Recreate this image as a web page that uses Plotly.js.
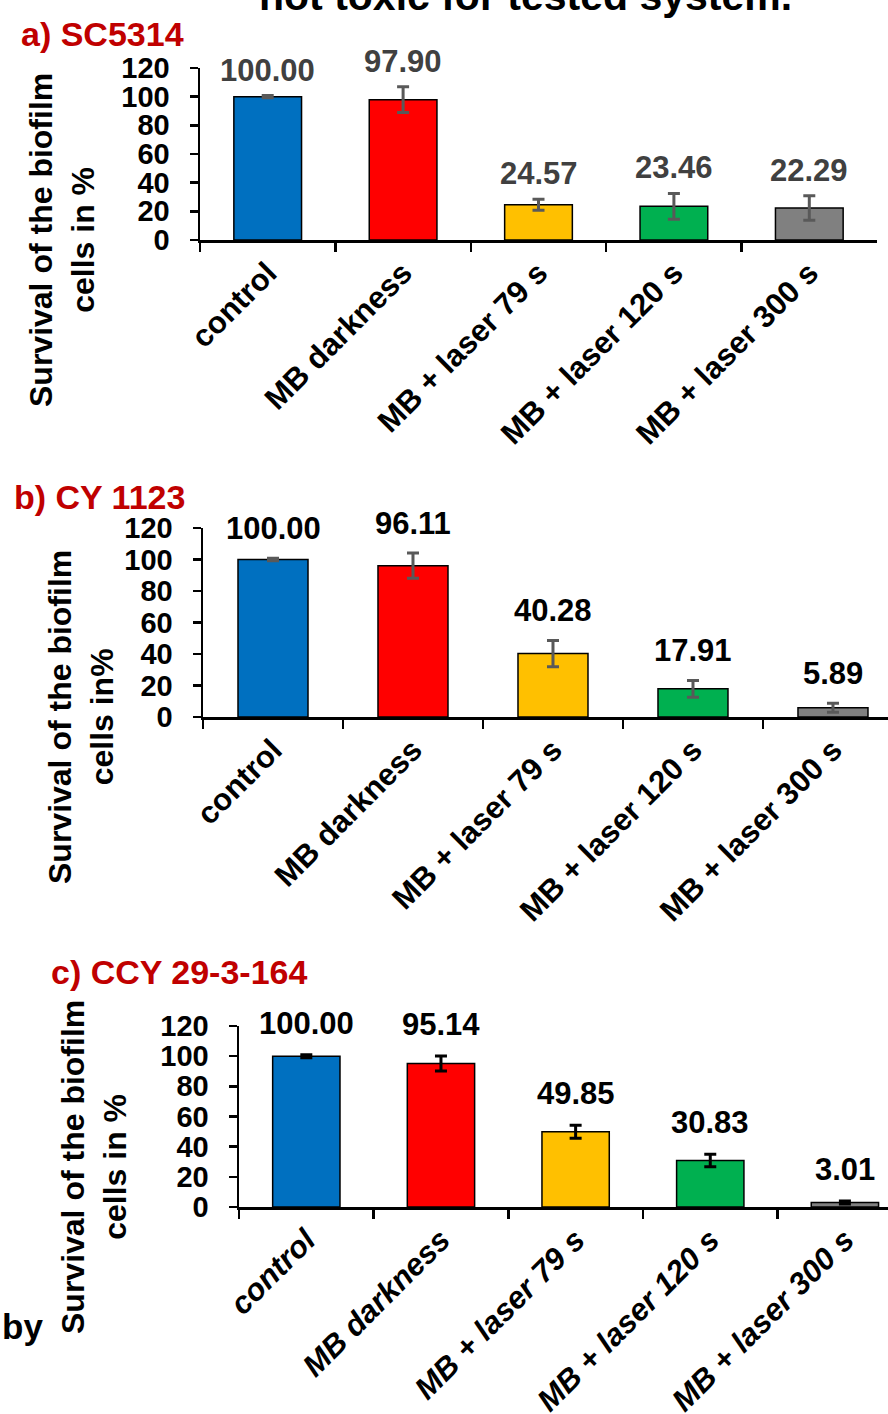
<!DOCTYPE html>
<html>
<head>
<meta charset="utf-8">
<script src="https://cdn.plot.ly/plotly-3.0.1.min.js"></script>
<style>
  html, body { margin: 0; padding: 0; background: #ffffff; }
  #chart { width: 888px; height: 1414px; }
</style>
</head>
<body>
<div id="chart"></div>
<script>
// ---------- data ----------
const categories = ['control', 'MB darkness', 'MB + laser 79 s', 'MB + laser 120 s', 'MB + laser 300 s'];

const valuesA = [100.00, 97.90, 24.57, 23.46, 22.29];
const errorsA = [0.8, 9.0, 3.9, 9.0, 8.5];

const valuesB = [100.00, 96.11, 40.28, 17.91, 5.89];
const errorsB = [0.8, 8.0, 8.3, 5.3, 2.9];

const valuesC = [100.00, 95.14, 49.85, 30.83, 3.01];
const errorsC = [1.0, 5.0, 4.3, 4.2, 1.0];

const barColors = ['#0070C0', '#FF0000', '#FFC000', '#00B050', '#808080'];
const yTicks = [0, 20, 40, 60, 80, 100, 120];

const panelTitles = ['a) SC5314', 'b) CY 1123', 'c) CCY 29-3-164'];
const yTitles = ['Survival of the biofilm<br>cells in %', 'Survival of the biofilm<br>cells in%', 'Survival of the biofilm<br>cells in %'];
const topText = 'not toxic for tested system.';
const sideText = 'by';

// ---------- layout helpers ----------
const W = 888, H = 1414;
const FONT = 'Liberation Sans, Arial, sans-serif';
const px = x => x / W;
const py = y => 1 - y / H;

const panels = [
  { values: valuesA, errors: errorsA, x0: 200, x1: 877, xmax: 4.5, yTop: 68, yBot: 240,
    errColor: '#595959', labelColor: '#404040', labelShift: 6, italic: false,
    titlePos: [19, 34], yTitlePos: [62, 240] },
  { values: valuesB, errors: errorsB, x0: 203, x1: 888, xmax: 4.393, yTop: 528, yBot: 717,
    errColor: '#595959', labelColor: '#000000', labelShift: 10, italic: false,
    titlePos: [12, 497], yTitlePos: [81, 717] },
  { values: valuesC, errors: errorsC, x0: 239, x1: 888, xmax: 4.32, yTop: 1026, yBot: 1207,
    errColor: '#000000', labelColor: '#000000', labelShift: 12, italic: true,
    titlePos: [49, 972], yTitlePos: [94, 1167] }
];

const traces = [];
const layout = {
  width: W, height: H,
  margin: { l: 0, r: 0, t: 0, b: 0, pad: 0 },
  paper_bgcolor: '#ffffff', plot_bgcolor: 'rgba(0,0,0,0)',
  showlegend: false,
  bargap: 0.5,
  annotations: []
};

panels.forEach((p, i) => {
  const n = i === 0 ? '' : String(i + 1);
  traces.push({
    type: 'bar',
    x: categories,
    y: p.values,
    xaxis: 'x' + n, yaxis: 'y' + n,
    marker: { color: barColors, line: { color: '#000000', width: 1.5 } },
    error_y: { type: 'data', array: p.errors, visible: true, color: p.errColor, thickness: 3, width: 6 },
    hoverinfo: 'skip'
  });

  layout['xaxis' + n] = {
    domain: [px(p.x0), px(p.x1)],
    anchor: 'y' + n,
    type: 'category',
    range: [-0.5, p.xmax],
    tickson: 'boundaries',
    ticks: 'outside', ticklen: 9, tickwidth: 2.5, tickcolor: '#000000',
    showline: true, linecolor: '#000000', linewidth: 2.5,
    showgrid: false, zeroline: false,
    tickangle: -45,
    tickfont: { family: FONT, size: 31, color: '#000000', weight: 'bold', style: p.italic ? 'italic' : 'normal' },
    fixedrange: true
  };
  layout['yaxis' + n] = {
    domain: [py(p.yBot), py(p.yTop)],
    anchor: 'x' + n,
    range: [0, 120],
    tickvals: yTicks,
    ticks: 'outside', ticklen: 8, tickwidth: 2.5, tickcolor: '#000000',
    ticklabelstandoff: 14,
    showline: true, linecolor: '#000000', linewidth: 2.5,
    showgrid: false, zeroline: false,
    tickfont: { family: FONT, size: 29, color: '#000000', weight: 'bold' },
    fixedrange: true
  };

  // data labels
  p.values.forEach((v, k) => {
    layout.annotations.push({
      xref: 'x' + n, yref: 'y' + n,
      x: categories[k], y: v + p.errors[k],
      text: v.toFixed(2),
      showarrow: false, xanchor: 'center', yanchor: 'bottom', yshift: p.labelShift,
      font: { family: FONT, size: 31, color: p.labelColor, weight: 'bold' }
    });
  });

  // panel title
  layout.annotations.push({
    xref: 'paper', yref: 'paper',
    x: px(p.titlePos[0]), y: py(p.titlePos[1]),
    text: panelTitles[i],
    showarrow: false, xanchor: 'left', yanchor: 'middle',
    font: { family: FONT, size: 34, color: '#C00000', weight: 'bold' }
  });

  // y axis title
  layout.annotations.push({
    xref: 'paper', yref: 'paper',
    x: px(p.yTitlePos[0]), y: py(p.yTitlePos[1]),
    text: yTitles[i],
    textangle: -90,
    showarrow: false, xanchor: 'center', yanchor: 'middle',
    font: { family: FONT, size: 32, color: '#000000', weight: 'bold' }
  });
});

// clipped heading at the top and stray text at the bottom left
layout.annotations.push({
  xref: 'paper', yref: 'paper', x: px(525), y: py(-4),
  text: topText, showarrow: false, xanchor: 'center', yanchor: 'middle',
  font: { family: FONT, size: 41, color: '#000000', weight: 'bold' }
});
layout.annotations.push({
  xref: 'paper', yref: 'paper', x: px(0), y: py(1326),
  text: sideText, showarrow: false, xanchor: 'left', yanchor: 'middle',
  font: { family: FONT, size: 35, color: '#000000', weight: 'bold' }
});

Plotly.newPlot('chart', traces, layout, { staticPlot: true, displayModeBar: false });
</script>
</body>
</html>
